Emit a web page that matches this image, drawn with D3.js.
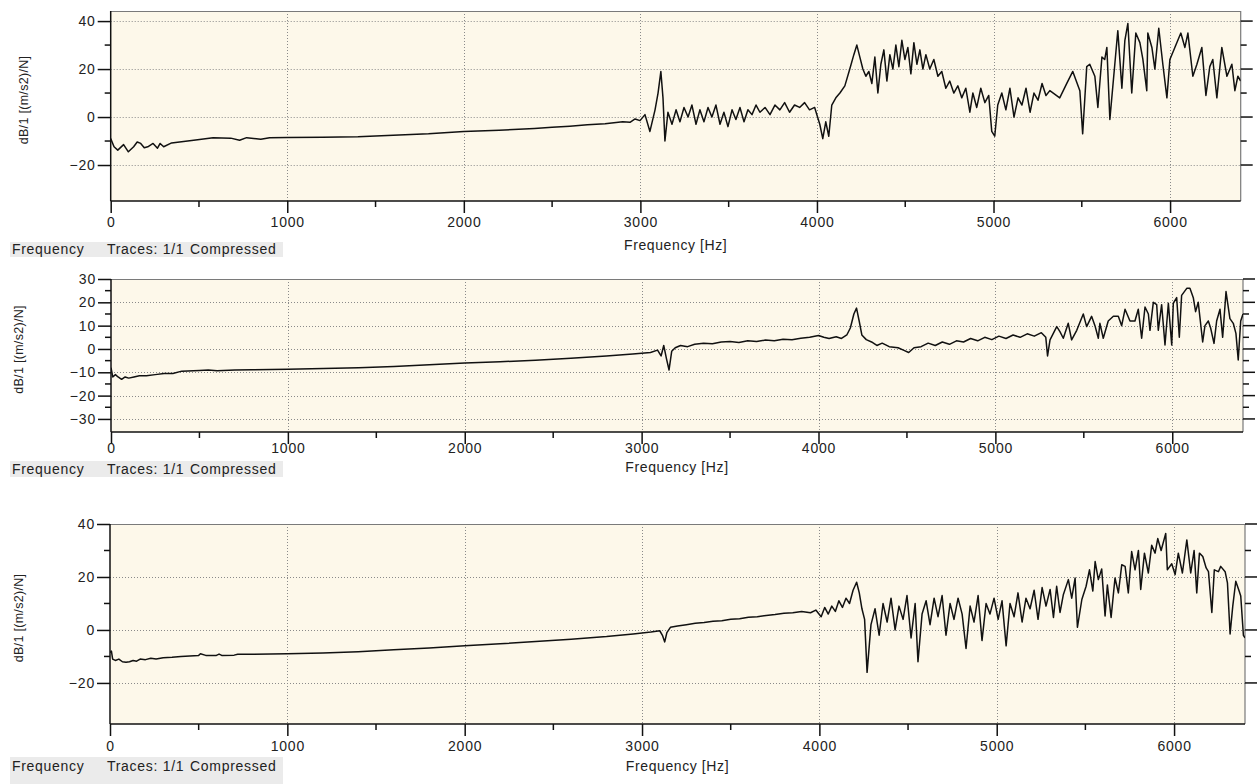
<!DOCTYPE html>
<html>
<head>
<meta charset="utf-8">
<title>Frequency response</title>
<style>
body { margin: 0; background: #fff; }
svg { display: block; font-family: "Liberation Sans", Arial, sans-serif; }
.tick-label { font-size: 14px; fill: #222; letter-spacing: 0.8px; }
.axis-title { font-size: 14px; fill: #222; letter-spacing: 0.6px; }
.y-title { font-size: 12.5px; fill: #222; letter-spacing: 0.3px; }
.status { font-size: 14px; fill: #222; letter-spacing: 0.7px; }
</style>
</head>
<body>
<svg width="1258" height="784"></svg>
<script src="https://cdn.jsdelivr.net/npm/d3@7"></script>
<script>

// x ticks (Hz)
var xMajor = [0, 1000, 2000, 3000, 4000, 5000, 6000],
    xMinor = [500, 1500, 2500, 3500, 4500, 5500];

// panel 1: frequency (Hz) and level (dB)
var p1Freq = [0, 19, 40, 73, 100, 130, 150, 170, 190, 210, 240, 265, 280, 300, 345, 390, 470, 580, 680, 730,
  770, 850, 900, 1000, 1200, 1400, 1600, 1800, 2000, 2200, 2400, 2500, 2600, 2700, 2800, 2900, 2941, 2970, 2998, 3026,
  3054, 3083, 3100, 3116, 3128, 3139, 3156, 3179, 3202, 3224, 3247, 3270, 3292, 3315, 3337, 3360, 3383, 3405, 3428, 3451,
  3473, 3496, 3519, 3541, 3564, 3587, 3609, 3632, 3655, 3677, 3706, 3734, 3762, 3790, 3817, 3845, 3873, 3902, 3930, 3958,
  3987, 4016, 4033, 4050, 4067, 4084, 4107, 4130, 4158, 4186, 4209, 4226, 4243, 4260, 4277, 4294, 4311, 4328, 4345, 4362,
  4379, 4396, 4413, 4430, 4447, 4464, 4481, 4498, 4515, 4532, 4549, 4566, 4583, 4600, 4617, 4639, 4662, 4685, 4707, 4730,
  4752, 4775, 4798, 4820, 4843, 4866, 4883, 4905, 4928, 4951, 4973, 4990, 5007, 5024, 5047, 5070, 5093, 5116, 5139, 5161,
  5184, 5207, 5229, 5252, 5275, 5297, 5319, 5375, 5415, 5449, 5489, 5505, 5528, 5545, 5574, 5591, 5614, 5630, 5642, 5659,
  5687, 5704, 5727, 5744, 5761, 5783, 5806, 5829, 5846, 5868, 5874, 5897, 5914, 5936, 5959, 5982, 5999, 6027, 6061, 6084,
  6101, 6129, 6152, 6180, 6203, 6225, 6242, 6265, 6293, 6322, 6350, 6367, 6384, 6400];
var p1Val = [-9, -12.4, -13.8, -11.5, -14.5, -12.4, -10.4, -11, -12.8, -12.4, -11, -13, -11, -12.4, -10.8, -10.4, -9.7, -8.6, -8.8, -9.7,
  -8.6, -9.3, -8.6, -8.5, -8.4, -8.2, -7.6, -7, -6, -5.5, -4.8, -4.3, -3.8, -3.2, -2.8, -2, -2.2, -0.8, -1.5, 1,
  -6, 3, 10, 19, 8, -10, 2, -3, 3, -2, 4, 0, 5, -3, 3, -2, 4, 0, 5, -3,
  2, -4, 3, -1, 4, -2, 3, 1, 5, 2, 4, 1, 5, 3, 6, 2, 5, 4, 6, 3,
  4, -3, -9, -2, -8, 5, 8, 10, 13, 20, 26, 30, 25, 20, 17, 19, 14, 25, 10, 22,
  28, 15, 26, 20, 30, 21, 32, 24, 29, 18, 31, 22, 28, 20, 26, 20, 24, 17, 19, 12,
  15, 10, 13, 8, 12, 2, 10, 4, 12, 6, 9, -6, -8, 5, 10, 3, 12, 0, 8, 5,
  12, 2, 10, 7, 14, 9, 11, 8, 14, 19, 11, -7, 21, 22, 17, 4, 25, 24, 29, -1,
  22, 36, 12, 32, 39, 10, 35, 31, 24, 11, 35, 29, 20, 37, 22, 8, 24, 29, 35, 29,
  35, 17, 22, 29, 9, 21, 24, 8, 29, 17, 22, 11, 17, 15];

// panel 2
var p2Freq = [0, 10, 25, 40, 60, 80, 100, 130, 160, 200, 250, 300, 350, 400, 500, 550, 600, 700, 800, 1000,
  1200, 1400, 1600, 1800, 2000, 2200, 2400, 2600, 2800, 2950, 3050, 3090, 3110, 3125, 3140, 3155, 3170, 3190, 3220, 3260,
  3300, 3350, 3400, 3450, 3500, 3550, 3600, 3650, 3700, 3750, 3800, 3850, 3900, 3950, 4000, 4030, 4060, 4100, 4130, 4160,
  4180, 4200, 4215, 4230, 4245, 4270, 4300, 4330, 4360, 4400, 4450, 4480, 4510, 4540, 4580, 4620, 4660, 4700, 4740, 4780,
  4820, 4860, 4900, 4940, 4980, 5020, 5060, 5100, 5140, 5180, 5220, 5260, 5285, 5295, 5309, 5347, 5365, 5384, 5412, 5431,
  5460, 5497, 5516, 5544, 5563, 5582, 5591, 5610, 5638, 5667, 5695, 5714, 5733, 5761, 5789, 5808, 5827, 5846, 5865, 5874,
  5893, 5912, 5921, 5940, 5959, 5978, 5997, 6006, 6025, 6040, 6053, 6082, 6100, 6119, 6132, 6147, 6172, 6185, 6204, 6217,
  6236, 6251, 6270, 6285, 6304, 6326, 6345, 6360, 6373, 6387, 6400];
var p2Val = [-8, -12, -11, -12, -13, -12, -12.5, -12, -11.5, -11.5, -11, -10.5, -10.5, -9.5, -9.2, -9, -9.3, -9, -8.9, -8.7,
  -8.4, -8, -7.5, -6.8, -6, -5.5, -4.8, -4, -3, -2.2, -1.5, -0.5, -3, 1.5, -4, -9, -1, 0.5, 1.5, 1,
  2, 2.5, 2.2, 3, 3.2, 2.8, 3.5, 3.2, 3.8, 3.5, 4.2, 4, 4.6, 5, 5.8, 5, 4.5, 5.2, 4.5, 6,
  9, 15, 17.5, 12, 6, 4, 3, 1.5, 2.5, 1, 0.5, -0.5, -1.5, 0.5, 1, 2.5, 1.5, 3, 2, 3.5,
  3, 4.5, 3.5, 5, 4, 5.5, 4.5, 6, 5, 6.5, 5.5, 7, 5, -3, 3.9, 9.6, 7.4, 4.6, 11, 3.9,
  8, 15, 9.6, 14, 10, 4.6, 11, 4.6, 12, 14, 14, 10, 17, 12, 12, 17, 4.6, 18, 15, 8,
  20, 19, 8, 19, 1.7, 19.6, 1.7, 19.6, 22, 5, 23, 26, 26, 22, 16, 20, 3, 10, 12, 9,
  2.4, 12, 17, 5, 24.6, 13, 11, 6.7, -4.7, 12, 15];

// panel 3
var p3Freq = [0, 8, 15, 30, 50, 70, 90, 110, 130, 150, 170, 200, 230, 260, 300, 350, 400, 450, 500, 510,
  540, 600, 615, 630, 700, 720, 800, 1000, 1200, 1400, 1600, 1800, 2000, 2200, 2400, 2600, 2800, 2950, 3050, 3100,
  3115, 3128, 3140, 3160, 3200, 3250, 3300, 3350, 3400, 3450, 3500, 3550, 3600, 3650, 3700, 3750, 3800, 3850, 3900, 3950,
  3980, 4010, 4030, 4050, 4070, 4090, 4110, 4130, 4150, 4170, 4190, 4210, 4225, 4240, 4255, 4269, 4291, 4314, 4337, 4359,
  4382, 4404, 4427, 4449, 4472, 4494, 4517, 4540, 4556, 4579, 4602, 4624, 4647, 4669, 4692, 4714, 4737, 4759, 4782, 4805,
  4827, 4850, 4872, 4895, 4917, 4940, 4962, 4985, 5008, 5030, 5053, 5075, 5098, 5120, 5143, 5165, 5188, 5211, 5233, 5256,
  5278, 5301, 5320, 5338, 5357, 5376, 5404, 5423, 5442, 5455, 5480, 5504, 5523, 5542, 5555, 5573, 5592, 5611, 5624, 5645,
  5667, 5686, 5705, 5724, 5742, 5761, 5780, 5799, 5812, 5833, 5855, 5874, 5893, 5908, 5927, 5953, 5962, 5987, 6006, 6024,
  6047, 6072, 6094, 6113, 6128, 6143, 6162, 6181, 6194, 6213, 6227, 6250, 6263, 6288, 6301, 6316, 6331, 6348, 6367, 6376,
  6391, 6400];
var p3Val = [-8.5, -8, -11, -11.5, -11, -12, -12.2, -12, -11.5, -11.8, -11, -11.2, -10.7, -11, -10.5, -10.3, -10, -9.8, -9.6, -9,
  -9.6, -9.6, -9.1, -9.6, -9.5, -9.2, -9.2, -9, -8.7, -8.2, -7.5, -6.8, -6, -5.2, -4.4, -3.5, -2.5, -1.5, -0.8, -0.3,
  -2, -4.5, -1, 1, 1.5, 2, 2.5, 2.8, 3.3, 3.5, 4, 4.2, 4.8, 5, 5.5, 5.8, 6.3, 6.5, 7, 6.5,
  7.5, 5, 8.5, 6, 9, 7, 11, 8.5, 12, 10, 15, 18, 14, 8, 4, -16, 2, 8, -2, 10,
  3, 12, 0, 9, 4, 13, -3, 10, -12, 6, 11, 2, 12, 5, 13, -2, 10, 4, 12, 6,
  -7, 9, 3, 13, -4, 10, 6, 12, 4, 11, -6, 10, 5, 14, 3, 12, 8, 15, 4, 16,
  9, 15.3, 4.7, 16.5, 6.6, 13.4, 19, 12, 19.6, 1, 11.5, 16.5, 22.7, 14.7, 25.8, 19, 23, 5.3, 17, 4.7,
  19.6, 14, 24.6, 24, 14, 29.6, 22.7, 30, 15.3, 29, 21.5, 32, 29, 34.5, 30, 36.4, 22.7, 25, 20.9, 29,
  21.5, 34, 21.5, 30, 14, 29, 27.7, 23.4, 22, 6.6, 22.7, 22, 24, 22, 17.8, -1.5, 9, 18.4, 14.7, 12.8,
  -2, -3];

var panels = [
  { freq: p1Freq, val: p1Val, left: 110.7, right: 1240.7, top: 11, bottom: 201, yDomain: [-35, 44.2],
    yMajor: [-20, 0, 20, 40], yMinor: [-10, 10, 30], grid: [-20, 0, 20, 40],
    labelY: 222, titleY: 245, bandTop: 242, bandBottom: 257, statusY: 249, yTitleX: 24 },
  { freq: p2Freq, val: p2Val, left: 111, right: 1243, top: 279, bottom: 432, yDomain: [-35.6, 30],
    yMajor: [-30, -20, -10, 0, 10, 20, 30], yMinor: [-25, -15, -5, 5, 15, 25], grid: [-30, -20, -10, 0, 10, 20, 30],
    labelY: 448, titleY: 467, bandTop: 461, bandBottom: 477, statusY: 469, yTitleX: 19 },
  { freq: p3Freq, val: p3Val, left: 110, right: 1245, top: 524, bottom: 724, yDomain: [-35.5, 40],
    yMajor: [-20, 0, 20, 40], yMinor: [-10, 10, 30], grid: [-20, 0, 20, 40],
    labelY: 746, titleY: 766, bandTop: 757, bandBottom: 784, statusY: 766, yTitleX: 19 }
];

var svg = d3.select("svg");

panels.forEach(function(p, k) {
  var x = d3.scaleLinear().domain([0, 6400]).range([p.left, p.right]);
  var y = d3.scaleLinear().domain(p.yDomain).range([p.bottom, p.top]);
  var g = svg.append("g");

  // status band under the plot
  g.append("rect")
      .attr("x", 10).attr("y", p.bandTop)
      .attr("width", 273).attr("height", p.bandBottom - p.bandTop)
      .attr("fill", "#ebebeb");
  var st = g.append("text").attr("class", "status").attr("y", p.statusY).attr("dy", "0.35em");
  st.append("tspan").attr("x", 12).text("Frequency");
  st.append("tspan").attr("x", 107).text("Traces: 1/1");
  st.append("tspan").attr("x", 190).text("Compressed");

  // plot background
  g.append("rect")
      .attr("x", p.left).attr("y", p.top)
      .attr("width", p.right - p.left).attr("height", p.bottom - p.top)
      .attr("fill", "#fdf8ea");

  // dotted grid
  g.selectAll(".hgrid").data(p.grid).enter().append("line")
      .attr("x1", p.left).attr("x2", p.right)
      .attr("y1", function(d) { return Math.round(y(d)) + 0.5; })
      .attr("y2", function(d) { return Math.round(y(d)) + 0.5; })
      .attr("stroke", "#8a8a8a").attr("stroke-width", 1).attr("stroke-dasharray", "1,2");
  g.selectAll(".vgrid").data(xMajor.slice(1)).enter().append("line")
      .attr("y1", p.top).attr("y2", p.bottom)
      .attr("x1", function(d) { return Math.round(x(d)) + 0.5; })
      .attr("x2", function(d) { return Math.round(x(d)) + 0.5; })
      .attr("stroke", "#8a8a8a").attr("stroke-width", 1).attr("stroke-dasharray", "1,2");

  // frame: top and right grey
  g.append("path")
      .attr("d", "M" + p.left + "," + (p.top + 0.5) + "H" + p.right + "V" + p.bottom)
      .attr("fill", "none").attr("stroke", "#7a7a7a").attr("stroke-width", 1.2);

  // trace
  var clipId = "clip" + k;
  g.append("clipPath").attr("id", clipId).append("rect")
      .attr("x", p.left).attr("y", p.top)
      .attr("width", p.right - p.left).attr("height", p.bottom - p.top);
  var pts = p.freq.map(function(f, i) { return [f, p.val[i]]; });
  g.append("path")
      .datum(pts)
      .attr("clip-path", "url(#" + clipId + ")")
      .attr("fill", "none").attr("stroke", "#111").attr("stroke-width", 1.5)
      .attr("stroke-linejoin", "round")
      .attr("d", d3.line().x(function(d) { return x(d[0]); }).y(function(d) { return y(d[1]); }));

  // left axis
  var yl = g.append("g").attr("transform", "translate(" + p.left + ",0)");
  yl.call(d3.axisLeft(y).tickValues(p.yMajor).tickSize(13).tickPadding(2).tickSizeOuter(0));
  yl.select(".domain").remove();
  yl.append("line").attr("y1", p.top).attr("y2", p.bottom).attr("stroke", "#111").attr("stroke-width", 1.5);
  yl.selectAll(".tick text").attr("class", "tick-label").attr("font-family", null).attr("font-size", null).attr("fill", null);
  yl.selectAll(".tick line").attr("stroke", "#111").attr("stroke-width", 1.5);
  yl.selectAll(".minor").data(p.yMinor).enter().append("line")
      .attr("x1", -6).attr("x2", 0)
      .attr("y1", function(d) { return y(d); }).attr("y2", function(d) { return y(d); })
      .attr("stroke", "#111").attr("stroke-width", 1.5);

  // right axis ticks (no labels)
  var yr = g.append("g").attr("transform", "translate(" + p.right + ",0)");
  yr.selectAll(".maj").data(p.yMajor).enter().append("line")
      .attr("x1", 0).attr("x2", 12)
      .attr("y1", function(d) { return y(d); }).attr("y2", function(d) { return y(d); })
      .attr("stroke", "#111").attr("stroke-width", 1.5);
  yr.selectAll(".min").data(p.yMinor).enter().append("line")
      .attr("x1", 0).attr("x2", 6)
      .attr("y1", function(d) { return y(d); }).attr("y2", function(d) { return y(d); })
      .attr("stroke", "#111").attr("stroke-width", 1.5);

  // bottom axis
  var xb = g.append("g").attr("transform", "translate(0," + p.bottom + ")");
  xb.call(d3.axisBottom(x).tickValues(xMajor).tickSize(12).tickFormat(d3.format("d")).tickSizeOuter(0));
  xb.select(".domain").remove();
  xb.append("line").attr("x1", p.left).attr("x2", p.right).attr("stroke", "#111").attr("stroke-width", 1.5);
  xb.selectAll(".tick line").attr("stroke", "#111").attr("stroke-width", 1.5);
  xb.selectAll(".tick text").attr("class", "tick-label").attr("font-family", null).attr("font-size", null).attr("fill", null)
      .attr("y", p.labelY - p.bottom).attr("dy", "0.35em");
  xb.selectAll(".minor").data(xMinor).enter().append("line")
      .attr("x1", function(d) { return x(d); }).attr("x2", function(d) { return x(d); })
      .attr("y1", 0).attr("y2", 6)
      .attr("stroke", "#111").attr("stroke-width", 1.5);

  // titles
  g.append("text").attr("class", "axis-title")
      .attr("x", (p.left + p.right) / 2).attr("y", p.titleY).attr("dy", "0.35em")
      .attr("text-anchor", "middle").text("Frequency [Hz]");
  g.append("text").attr("class", "y-title")
      .attr("transform", "translate(" + p.yTitleX + "," + ((p.top + p.bottom) / 2 - 6) + ") rotate(-90)")
      .attr("text-anchor", "middle").attr("dy", "0.35em")
      .text("dB/1 [(m/s2)/N]");
});

</script>
</body>
</html>
